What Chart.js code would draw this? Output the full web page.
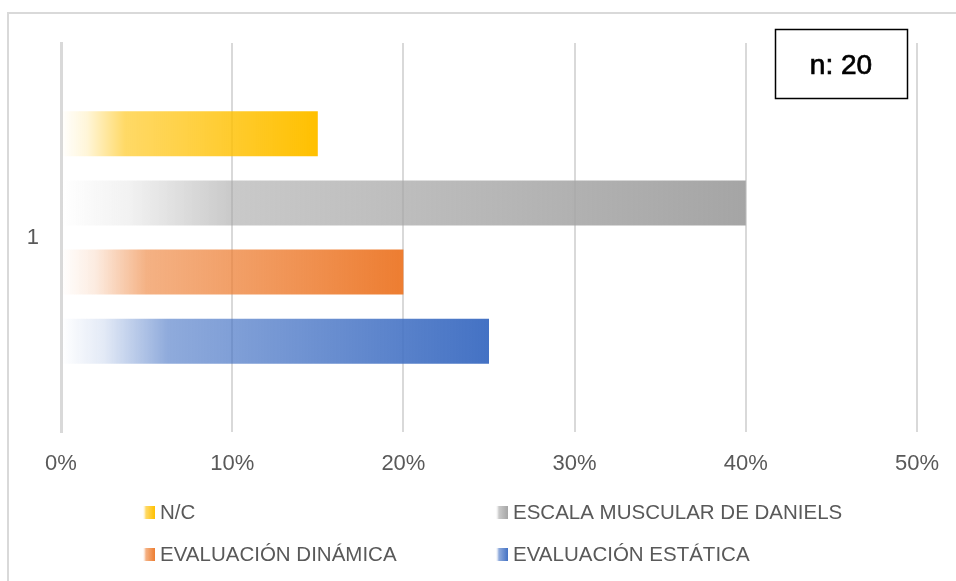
<!DOCTYPE html>
<html lang="es">
<head>
    <meta charset="UTF-8">
    <title>Evaluación</title>
    <script src="https://cdn.jsdelivr.net/npm/chart.js"></script>
    <style>
        html, body { margin: 0; padding: 0; background: #fff; }
        #wrap { position: absolute; left: 0; top: 0; width: 956px; height: 581px; }
    </style>
</head>
<body>
    <div id="wrap"><canvas id="chart" width="956" height="581"></canvas></div>

    <script>
        // chart data
        const categories = ['1'];
        const seriesNames = ['N/C', 'ESCALA MUSCULAR DE DANIELS', 'EVALUACIÓN DINÁMICA', 'EVALUACIÓN ESTÁTICA'];
        const seriesValues = [15, 40, 20, 25];   // percent
        const seriesColors = ['#FFC000', '#A5A5A5', '#ED7D31', '#4472C4'];
        const xTicks = [0, 10, 20, 30, 40, 50];
        const sampleNote = 'n: 20';

        const FONT = '"Liberation Sans", Arial, sans-serif';
        const TEXT = '#595959';

        function rgba(hex, a) {
            const n = parseInt(hex.slice(1), 16);
            return `rgba(${(n >> 16) & 255}, ${(n >> 8) & 255}, ${n & 255}, ${a})`;
        }

        // white-to-colour fade along the bar, like the office gradient fill
        function fade(ctx, x0, x1, hex) {
            const g = ctx.createLinearGradient(x0, 0, x1, 0);
            g.addColorStop(0, rgba(hex, 0));
            g.addColorStop(0.1, rgba(hex, 0.15));
            g.addColorStop(0.25, rgba(hex, 0.6));
            g.addColorStop(1, rgba(hex, 1));
            return g;
        }

        function barFill(context) {
            const chart = context.chart;
            const hex = seriesColors[context.datasetIndex];
            const xs = chart.scales.x;
            if (!chart.chartArea || !xs || context.raw == null) return hex;
            const x0 = xs.getPixelForValue(0);
            const x1 = xs.getPixelForValue(context.raw);
            if (x1 - x0 < 1) return hex;
            return fade(chart.ctx, x0, x1, hex);
        }

        const frame = {
            id: 'frame',
            beforeDraw(chart) {
                const c = chart.ctx;
                c.save();
                c.strokeStyle = '#d9d9d9';
                c.lineWidth = 2;
                c.beginPath();
                c.moveTo(8, chart.height);
                c.lineTo(8, 13);
                c.lineTo(chart.width, 13);
                c.stroke();
                c.restore();
            }
        };

        const extras = {
            id: 'extras',
            afterDraw(chart) {
                const c = chart.ctx;
                c.save();
                // sample size box
                c.strokeStyle = '#000';
                c.lineWidth = 1.5;
                c.strokeRect(775.5, 29.5, 132, 69);
                c.fillStyle = '#000';
                c.font = `28px ${FONT}`;
                c.textAlign = 'center';
                c.textBaseline = 'middle';
                c.fillText(sampleNote, 841, 66);
                c.lineWidth = 0.7;
                c.strokeText(sampleNote, 841, 66);

                // legend, two columns
                const cols = [143, 496];
                const rows = [513, 555];
                c.font = `20.5px ${FONT}`;
                c.textAlign = 'left';
                chart.data.datasets.forEach((ds, i) => {
                    const x = cols[i % 2];
                    const y = rows[Math.floor(i / 2)];
                    c.fillStyle = fade(c, x, x + 12, seriesColors[i]);
                    c.fillRect(x, y - 7, 12, 13);
                    c.fillStyle = TEXT;
                    c.fillText(ds.label, x + 17, y);
                });
                c.restore();
            }
        };

        new Chart(document.getElementById('chart'), {
            type: 'bar',
            data: {
                labels: categories,
                datasets: seriesNames.map((name, i) => ({
                    label: name,
                    data: [seriesValues[i]],
                    backgroundColor: barFill,
                    borderWidth: 0,
                    categoryPercentage: 0.712,
                    barPercentage: 0.65
                }))
            },
            options: {
                indexAxis: 'y',
                responsive: false,
                animation: false,
                layout: { padding: { left: 0, right: 39, top: 43, bottom: 99 } },
                plugins: {
                    legend: { display: false },
                    tooltip: { enabled: false }
                },
                scales: {
                    x: {
                        min: xTicks[0],
                        max: xTicks[xTicks.length - 1],
                        afterBuildTicks: (axis) => { axis.ticks = xTicks.map(v => ({ value: v })); },
                        afterFit: (axis) => {
                            axis.height = 50;
                            axis.paddingLeft = 0;
                            axis.paddingRight = 0;
                        },
                        grid: { color: '#d9d9d9', lineWidth: 2, drawTicks: false },
                        border: { display: false },
                        ticks: {
                            padding: 19,
                            color: TEXT,
                            font: { family: FONT, size: 22 },
                            callback: (v) => v + '%'
                        }
                    },
                    y: {
                        afterFit: (axis) => { axis.width = 61; },
                        grid: { display: false, drawTicks: false },
                        border: { display: true, color: '#d9d9d9', width: 3 },
                        ticks: {
                            padding: 22,
                            color: TEXT,
                            font: { family: FONT, size: 22 }
                        }
                    }
                }
            },
            plugins: [frame, extras]
        });
    </script>
</body>
</html>
